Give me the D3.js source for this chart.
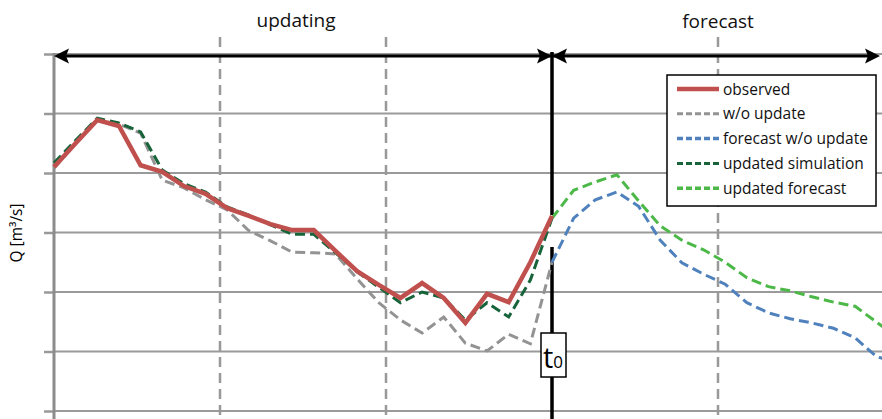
<!DOCTYPE html>
<html>
<head>
<meta charset="utf-8">
<script src="https://cdnjs.cloudflare.com/ajax/libs/d3/7.8.5/d3.min.js"></script>
<style>
  body { margin: 0; background: #fff; }
  svg { display: block; font-family: "Open Sans", "Noto Sans", sans-serif; }
  .period { font-size: 19px; fill: #111; }
  .legend-text { font-size: 15.5px; fill: #111; }
  .axis-label { font-size: 15.5px; fill: #000; }
</style>
</head>
<body>
<svg id="chart" width="882" height="419"></svg>
<script>
// Discharge: observed vs. simulated, updating period and forecast after t0
const stepsPerDay = 23 / 3;          // time steps per vertical grid interval
const t0Step = 23;                   // index of the forecast time t0
const dayMarks = [1, 2, 3, 4, 5];    // vertical dashed lines (day boundaries)
const qTicks = [0, 10, 20, 30, 40, 50, 60];

// Updating period, steps 0..23
const observed      = [41.0, 45.0, 48.9, 47.9, 41.3, 40.2, 37.8, 36.5, 34.1, 32.8, 31.4, 30.4,
                       30.4, 26.9, 23.5, 21.2, 19.0, 21.5, 19.0, 14.8, 19.7, 18.3, 25.0, 32.8];
const withoutUpdate = [40.8, 45.0, 48.9, 48.2, 46.7, 38.8, 37.5, 35.5, 33.8, 30.3, 28.6, 26.7,
                       26.6, 26.4, 22.2, 18.2, 15.3, 13.1, 15.8, 11.4, 10.1, 12.9, 11.3, 25.0];
const updatedSim    = [41.7, 45.5, 49.2, 48.4, 46.9, 40.5, 38.2, 36.8, 34.3, 32.9, 31.3, 29.7,
                       29.7, 26.6, 23.4, 20.8, 18.2, 20.0, 19.0, 15.3, 18.2, 15.8, 22.0, 32.4];
// Forecast period, steps 23..39
const forecastNoUpdate = [25.0, 32.4, 35.5, 36.8, 34.4, 28.7, 24.9, 23.0, 21.3, 18.2, 16.5,
                          15.5, 14.8, 13.9, 12.3, 9.1, 8.2];
const updatedForecast  = [32.4, 37.1, 38.5, 39.7, 35.3, 31.1, 28.7, 27.1, 25.0, 22.4, 20.9,
                          20.2, 19.2, 18.3, 17.6, 14.9, 12.2];

const legendItems = [
  { name: "observed",            color: "#c0504d", dash: null,  w: 4.5 },
  { name: "w/o update",          color: "#939393", dash: "6,3", w: 3 },
  { name: "forecast w/o update", color: "#4f81bd", dash: "6,3", w: 3.5 },
  { name: "updated simulation",  color: "#17643a", dash: "6,3", w: 3 },
  { name: "updated forecast",    color: "#4cb848", dash: "6,3", w: 3.5 }
];
const col = Object.fromEntries(legendItems.map(d => [d.name, d]));

(function() {
  const svg = d3.select("#chart");
  const width = +svg.attr("width");
  const height = +svg.attr("height");
  const left = 54;

  const xDay = d3.scaleLinear().domain([0, 3]).range([left, 552]);
  const x = i => xDay(i / stepsPerDay);
  const y = d3.scaleLinear().domain([0, 60]).range([411, 54]);
  const xT0 = x(t0Step);

  // horizontal grid + left ticks
  svg.append("g")
    .attr("transform", `translate(${left},0)`)
    .call(d3.axisLeft(y).tickValues(qTicks).tickSize(10).tickFormat(""))
    .call(g => g.select(".domain").remove())
    .call(g => g.selectAll("line").attr("stroke", "#999").attr("stroke-width", 2.5));
  svg.append("g")
    .selectAll("line")
    .data(qTicks)
    .join("line")
    .attr("x1", left).attr("x2", width)
    .attr("y1", d => y(d)).attr("y2", d => y(d))
    .attr("stroke", "#9a9a9a").attr("stroke-width", 2);

  // vertical dashed day lines (not at t0)
  svg.append("g")
    .selectAll("line")
    .data(dayMarks.filter(d => d !== 3))
    .join("line")
    .attr("x1", d => xDay(d)).attr("x2", d => xDay(d))
    .attr("y1", 37).attr("y2", height)
    .attr("stroke", "#999").attr("stroke-width", 2.5)
    .attr("stroke-dasharray", "10,6");

  // left axis line
  svg.append("line")
    .attr("x1", left).attr("x2", left)
    .attr("y1", 53).attr("y2", height)
    .attr("stroke", "#8c8c8c").attr("stroke-width", 3);

  // t0 vertical line (interrupted where the curves cross it)
  [[52, 215], [247, height]].forEach(([a, b]) => {
    svg.append("line")
      .attr("x1", xT0).attr("x2", xT0)
      .attr("y1", a).attr("y2", b)
      .attr("stroke", "#000").attr("stroke-width", 3.5);
  });

  // series
  const line = d3.line().x(d => x(d.i)).y(d => y(d.q));
  const upd = arr => arr.map((q, i) => ({ i, q }));
  const fc = arr => arr.map((q, k) => ({ i: t0Step + k, q }));

  function draw(data, item) {
    svg.append("path")
      .datum(data)
      .attr("fill", "none")
      .attr("stroke", item.color)
      .attr("stroke-width", item.w === 4.5 ? 4.5 : 3)
      .attr("stroke-linejoin", "miter")
      .attr("stroke-dasharray", item.dash ? "10,5" : null)
      .attr("d", line);
  }
  draw(upd(withoutUpdate), col["w/o update"]);
  draw(fc(forecastNoUpdate), col["forecast w/o update"]);
  draw(fc(updatedForecast), col["updated forecast"]);
  draw(upd(updatedSim), col["updated simulation"]);
  draw(upd(observed), col["observed"]);

  // period arrows
  const ay = 56;
  svg.append("line").attr("x1", left + 4).attr("x2", width - 6)
    .attr("y1", ay).attr("y2", ay).attr("stroke", "#000").attr("stroke-width", 3);
  function head(tipX, dir) {
    const L = 15, H = 7.5, n = 3;
    const p = [[tipX, ay], [tipX - dir * L, ay - H], [tipX - dir * (L - n), ay],
               [tipX - dir * L, ay + H]];
    svg.append("path").attr("d", "M" + p.join("L") + "Z").attr("fill", "#000");
  }
  head(left, -1);
  head(xT0, 1);
  head(xT0, -1);
  head(width - 2, 1);

  svg.append("text").attr("class", "period")
    .attr("x", 296).attr("y", 27).attr("text-anchor", "middle")
    .text("updating");
  svg.append("text").attr("class", "period")
    .attr("x", xDay(4)).attr("y", 28).attr("text-anchor", "middle")
    .text("forecast");

  // t0 label
  svg.append("rect")
    .attr("x", xT0 - 11).attr("y", 333).attr("width", 25).attr("height", 44)
    .attr("fill", "#fff").attr("stroke", "#000").attr("stroke-width", 1.5);
  const t0 = svg.append("text").attr("x", xT0 - 9).attr("y", 368).attr("fill", "#000");
  t0.append("tspan").attr("font-size", 29).text("t");
  t0.append("tspan").attr("font-size", 17).text("0");

  // y-axis label
  svg.append("text").attr("class", "axis-label")
    .attr("transform", "translate(22,233) rotate(-90)")
    .attr("text-anchor", "middle")
    .text("Q [m³/s]");

  // legend
  const lg = svg.append("g");
  lg.append("rect")
    .attr("x", 667).attr("y", 75).attr("width", 209).attr("height", 131)
    .attr("fill", "#fff").attr("stroke", "#000").attr("stroke-width", 1.5);
  legendItems.forEach((d, k) => {
    const ly = 89 + k * 24.8;
    lg.append("line")
      .attr("x1", 677).attr("x2", 719).attr("y1", ly).attr("y2", ly)
      .attr("stroke", d.color).attr("stroke-width", d.w)
      .attr("stroke-dasharray", d.dash);
    lg.append("text").attr("class", "legend-text")
      .attr("x", 723).attr("y", ly + 5.5)
      .text(d.name);
  });
})();
</script>
</body>
</html>
